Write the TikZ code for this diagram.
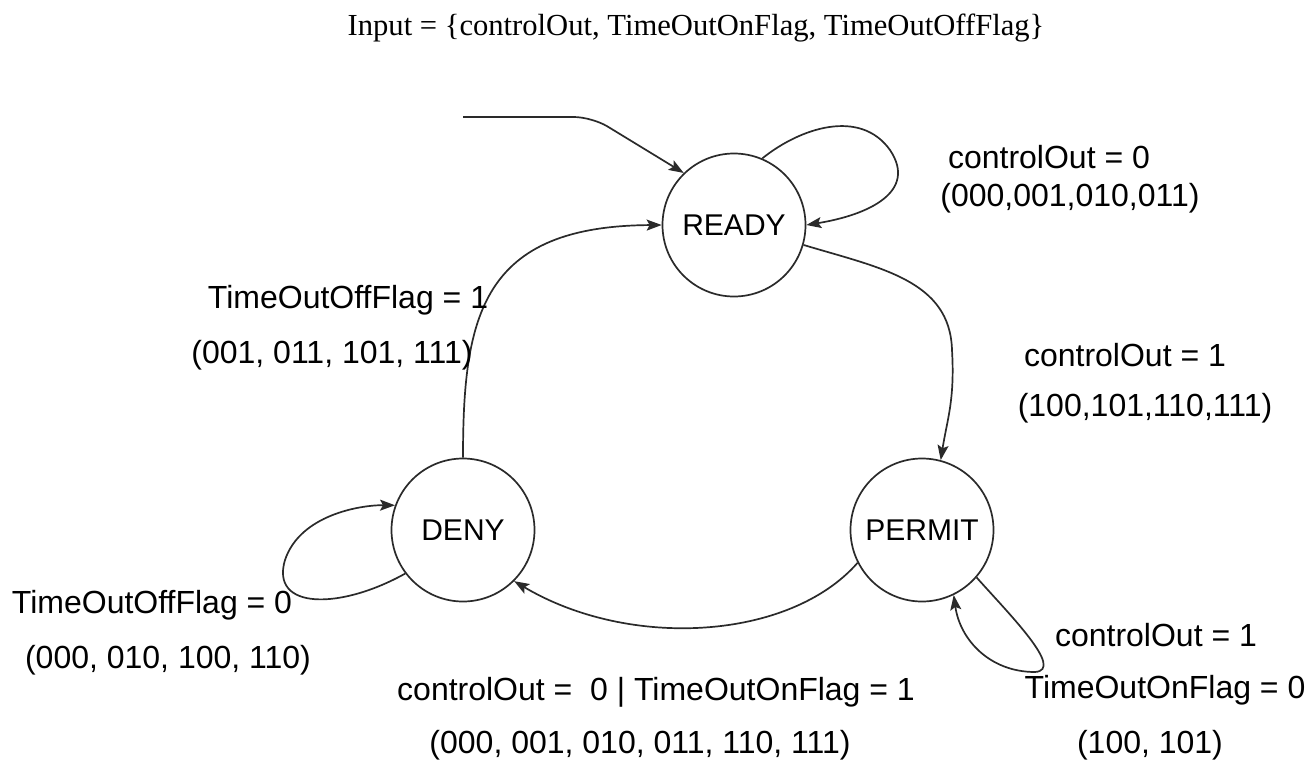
\documentclass[tikz,border=0pt]{standalone}
\usepackage{fontspec}
\setmainfont{Liberation Sans}
\newfontfamily\titlefont{Liberation Serif}
\usetikzlibrary{arrows.meta}
\definecolor{ink}{HTML}{2A2A2A}
\begin{document}
\begin{tikzpicture}[x=1pt,y=-1pt,
  state/.style={circle, draw=ink, line width=1.7pt, minimum size=143pt, inner sep=0pt, font=\fontsize{30}{34}\selectfont, text=black},
  edge/.style={draw=ink, line width=1.7pt, -{Stealth[length=15pt,width=11pt,inset=3pt]}},
  lbl/.style={font=\fontsize{32}{36}\selectfont, text=black, inner sep=0pt}]
\useasboundingbox (0,0) rectangle (1307,764);

% title
\node[font=\titlefont\fontsize{30.6}{34}\selectfont, inner sep=0pt] (title) at (696,28) {Input = \{controlOut, TimeOutOnFlag, TimeOutOffFlag\}};

% states
\node[state] (ready)  at (734,225) {READY};
\node[state] (deny)   at (463,530) {DENY};
\node[state] (permit) at (922,530) {PERMIT};

% initial transition
\coordinate (init) at (463,117);
\draw[edge, rounded corners=18pt] (init) -- (592,117) -- (ready.134);

% transitions
\draw[edge] (ready.67) .. controls (800,128) and (860,108) .. (890,150)
  .. controls (918,192) and (868,215) .. (ready.0);
\draw[edge] (ready.-16) .. controls (880,268) and (950,280) .. (952,350)
  .. controls (955,400) and (947,420) .. (permit.75);
\draw[edge] (deny.90) .. controls (463,315) and (482,226) .. (ready.180);
\draw[edge] (permit.207) .. controls (790,640) and (630,650) .. (deny.-45);
\draw[edge] (deny.217) .. controls (340,610) and (270,610) .. (285,560)
  .. controls (300,515) and (360,505) .. (deny.160);
\draw[edge] (permit.-41) .. controls (1010,615) and (1065,670) .. (1035,672)
  .. controls (990,672) and (960,640) .. (permit.-64);

% labels
\node[lbl] (l1a) at (1049,157) {controlOut = 0};
\node[lbl] (l1b) at (1070,198) {(000,001,010,011)};
\node[lbl] (l2a) at (348,300) {TimeOutOffFlag = 1};
\node[lbl] (l2b) at (332,355) {(001, 011, 101, 111)};
\node[lbl] (l3a) at (1125,355) {controlOut = 1};
\node[lbl] (l3b) at (1145,408) {(100,101,110,111)};
\node[lbl] (l4a) at (152,605) {TimeOutOffFlag = 0};
\node[lbl] (l4b) at (168,660) {(000, 010, 100, 110)};
\node[lbl] (l5a) at (656,692) {controlOut = \ 0 | TimeOutOnFlag = 1};
\node[lbl] (l5b) at (640,745) {(000, 001, 010, 011, 110, 111)};
\node[lbl] (l6a) at (1156,635) {controlOut = 1};
\node[lbl] (l6b) at (1165,690) {TimeOutOnFlag = 0};
\node[lbl] (l6c) at (1150,745) {(100, 101)};
\end{tikzpicture}
\end{document}
